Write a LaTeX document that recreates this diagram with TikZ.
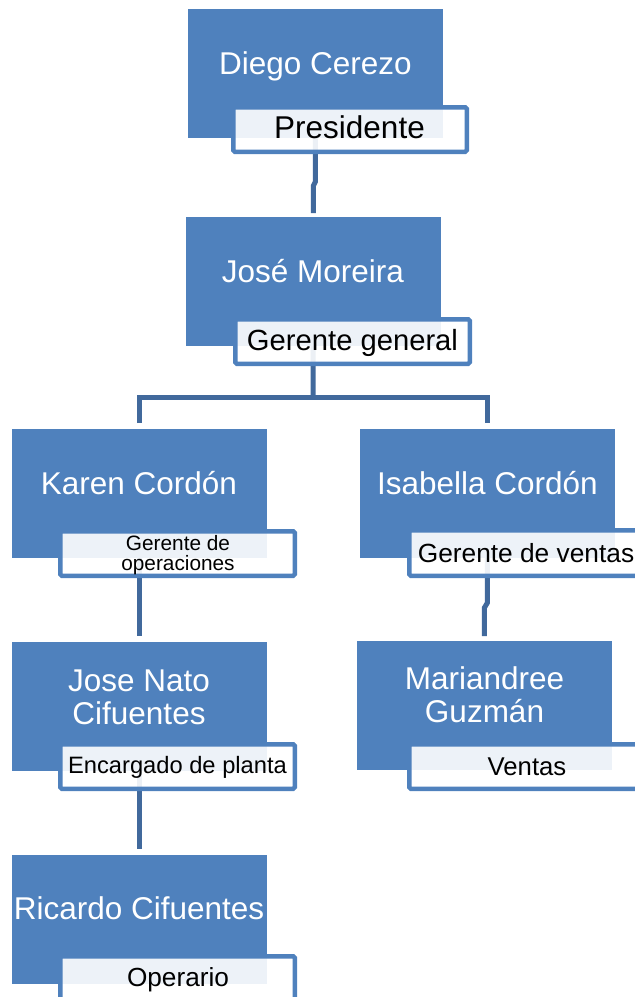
\documentclass[tikz,border=0pt]{standalone}
\usepackage{fontspec}
\setmainfont{Liberation Sans}
\usetikzlibrary{calc}
\definecolor{boxblue}{HTML}{4F81BD}
\definecolor{linkblue}{HTML}{41699C}
\tikzset{
  person/.style={fill=boxblue, draw=none, inner sep=0pt, outer sep=0pt,
    anchor=north west, minimum width=254.5, minimum height=129},
  rolebox/.style={fill=white, fill opacity=0.9, draw=boxblue, draw opacity=1,
    line width=4.5, rounded corners=1.5, inner sep=0pt, outer sep=0pt,
    anchor=north west, minimum width=234.5, minimum height=44.5},
  nametext/.style={text=white, inner sep=0pt, anchor=base, align=center,
    font=\fontsize{31.5}{33}\selectfont},
  roletext/.style={text=black, inner sep=0pt, anchor=base, align=center},
  link/.style={draw=linkblue, line width=5, line join=miter}
}
\begin{document}
\begin{tikzpicture}[x=1pt, y=-1pt]
  \useasboundingbox (0,0) rectangle (635,997);
  \clip (0,0) rectangle (635,997);

  % coloured member boxes
  \node[person] (b1) at (188,9) {};
  \node[person] (b2) at (186,217) {};
  \node[person] (b3) at (12,429) {};
  \node[person] (b4) at (360,429) {};
  \node[person] (b5) at (12,642) {};
  \node[person] (b6) at (357,641) {};
  \node[person] (b7) at (12,855) {};

  % connectors
  \draw[link] (b1.south) -- ($(b1.south)+(0,44)$) -- ($(b2.north)+(0,-31)$) -- ($(b2.north)+(0,-4)$);
  \coordinate (fork) at (313,397);
  \draw[link] (b2.south) -- (fork);
  \draw[link] ($(b3.north)+(0,-6)$) |- (fork) -| ($(b4.north)+(0,-6)$);
  \draw[link] (b3.south) -- ($(b5.north)+(0,-6)$);
  \draw[link] (b5.south) -- ($(b7.north)+(0,-6)$);
  \draw[link] (b4.south) -- ($(b4.south)+(0,45)$) -- ($(b6.north)+(0,-33)$) -- ($(b6.north)+(0,-5)$);

  % role boxes
  \node[rolebox, minimum width=233.5] (r1) at (233.25,107.25) {};
  \node[rolebox] (r2) at (235.25,319.25) {};
  \node[rolebox] (r3) at (60.25,531.25) {};
  \node[rolebox, minimum height=45.5] (r4) at (409.25,530.25) {};
  \node[rolebox] (r5) at (60.25,744.25) {};
  \node[rolebox] (r6) at (409.25,744.25) {};
  \node[rolebox] (r7) at (60.25,956.25) {};

  % names (multi-line nodes sit on the baseline of their last line)
  \node[nametext] (n1) at (315.5,74) {Diego Cerezo};
  \node[nametext] (n2) at (313,282) {José Moreira};
  \node[nametext] (n3) at (139,494) {Karen Cordón};
  \node[nametext] (n4) at (487.5,494) {Isabella Cordón};
  \node[nametext] (n5) at (139,724) {Jose Nato\\Cifuentes};
  \node[nametext] (n6) at (484.5,722) {Mariandree\\Guzmán};
  \node[nametext] (n7) at (139,919) {Ricardo Cifuentes};

  % roles
  \node[roletext, font=\fontsize{31.5}{33}\selectfont] (t1) at (349.5,138) {Presidente};
  \node[roletext, font=\fontsize{29.2}{31}\selectfont] (t2) at (352.5,350) {Gerente general};
  \node[roletext, font=\fontsize{20.8}{20}\selectfont] (t3) at (178,570) {Gerente de\\operaciones};
  \node[roletext, font=\fontsize{26.3}{28}\selectfont] (t4) at (526,562) {Gerente de ventas};
  \node[roletext, font=\fontsize{23.7}{25}\selectfont] (t5) at (177.5,773) {Encargado de planta};
  \node[roletext, font=\fontsize{25.7}{27}\selectfont] (t6) at (527,775) {Ventas};
  \node[roletext, font=\fontsize{26.2}{28}\selectfont] (t7) at (178,986) {Operario};
\end{tikzpicture}
\end{document}
